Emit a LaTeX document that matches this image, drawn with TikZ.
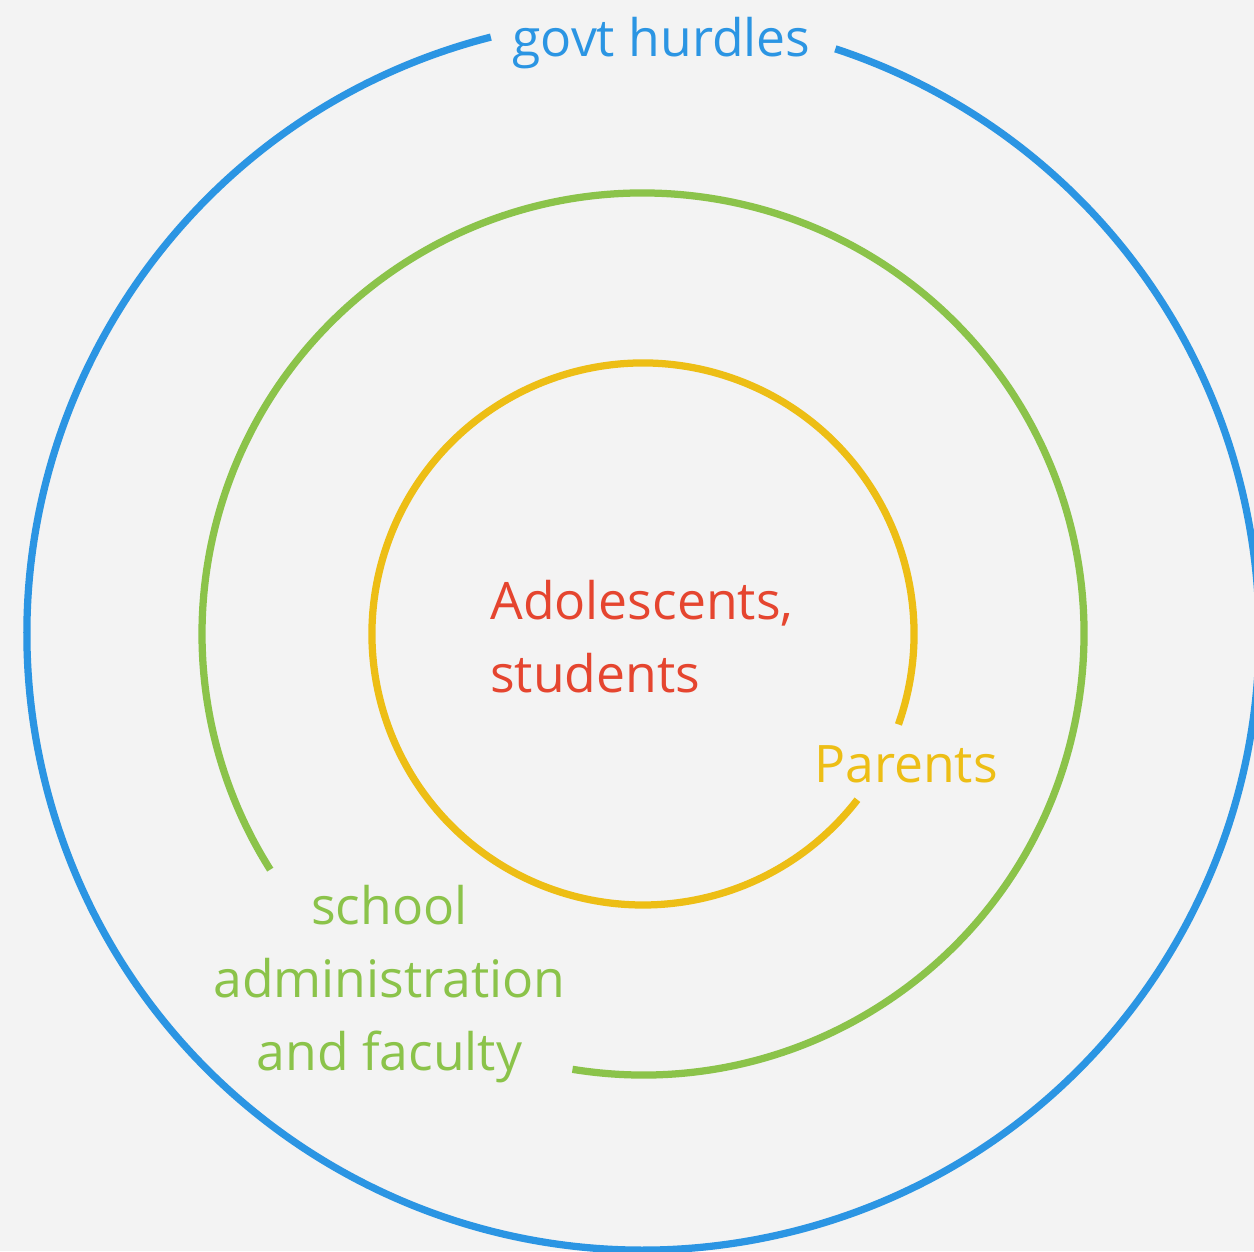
\documentclass[tikz,border=0pt]{standalone}
\usepackage{fontspec}
\setmainfont{Open Sans}
\usetikzlibrary{positioning}

\definecolor{bgGray}{HTML}{F3F3F3}
\definecolor{govtBlue}{HTML}{2B95E3}
\definecolor{schoolGreen}{HTML}{8BC34A}
\definecolor{parentYellow}{HTML}{EDBE15}
\definecolor{teenRed}{HTML}{E5452F}

\begin{document}
\begin{tikzpicture}[ring/.style={line width=0.145cm, line cap=butt},
        every node/.style={inner sep=0pt, font=\fontsize{29.4}{41.5}\selectfont}]
        % Background and margins
        \fill[bgGray] (-12.86,-12.34) rectangle (12.22,12.68);
        \useasboundingbox (-12.86,-12.34) rectangle (12.22,12.68);
        \coordinate (c) at (0,0);

        % Outer ring
        \draw[ring, govtBlue] (c) ++(104.3:12.32) arc[start angle=104.3, end angle=431.8, radius=12.32];
        \node (govt) [anchor=base, text=govtBlue] at (0.37,11.54) {govt hurdles};

        % Middle ring
        \draw[ring, schoolGreen] (c) ++(260.8:8.82) arc[start angle=260.8, end angle=572.3, radius=8.82];
        \node (school) [anchor=base, align=center, text=schoolGreen] at (-5.07,-8.72)
        {school\\administration\\and faculty};

        % Inner ring
        \draw[ring, parentYellow] (c) ++(-19.5:5.42) arc[start angle=-19.5, end angle=322.3, radius=5.42];
        \node (parents) [anchor=base west, text=parentYellow] at (3.42,-2.96) {Parents};

        % Centre
        \node (teens) [anchor=base west, align=left, text=teenRed] at (-3.06,-1.16)
        {Adolescents,\\students};
    \end{tikzpicture}
\end{document}
